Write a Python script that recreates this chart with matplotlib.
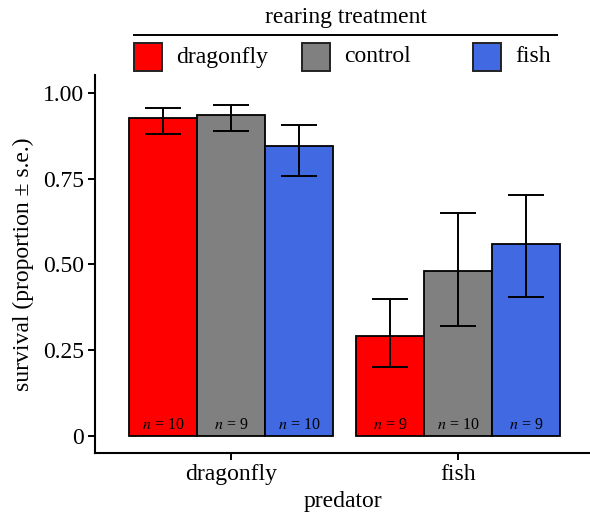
import matplotlib
matplotlib.use("Agg")
import matplotlib.pyplot as plt
from matplotlib.patches import Rectangle
from matplotlib.lines import Line2D
import numpy as np

plt.rcParams['font.family'] = ['Liberation Serif', 'DejaVu Serif']
plt.rcParams['mathtext.fontset'] = 'stix'

# дані
predators = ["dragonfly", "fish"]
treatments = ["dragonfly", "control", "fish"]
colors = ["#FF0000", "#808080", "#4169E1"]
survival = [[0.928, 0.936, 0.845],
            [0.292, 0.482, 0.559]]
err_low = [[0.880, 0.889, 0.759],
           [0.200, 0.319, 0.406]]
err_high = [[0.955, 0.965, 0.905],
            [0.400, 0.650, 0.702]]
n_obs = [[10, 9, 10],
         [9, 10, 9]]

fig = plt.figure(figsize=(5.90, 5.19), dpi=100)
ax = fig.add_axes([95 / 590, 1 - 453 / 519, 495 / 590, (453 - 75) / 519])

width = 0.3
xc = np.arange(1, len(predators) + 1)
for j, (lab, col) in enumerate(zip(treatments, colors)):
    xs = xc + (j - 1) * width
    vals = np.array([survival[i][j] for i in range(len(predators))])
    lo = np.array([err_low[i][j] for i in range(len(predators))])
    hi = np.array([err_high[i][j] for i in range(len(predators))])
    ax.bar(xs, vals, width=width, color=col, edgecolor='black', linewidth=1.3, zorder=2)
    ax.errorbar(xs, vals, yerr=[vals - lo, hi - vals], fmt='none', ecolor='black',
                elinewidth=1.4, capsize=13, capthick=1.4, zorder=3)
    for i, x in enumerate(xs):
        ax.text(x, 0.032, f"$n$ = {n_obs[i][j]}", ha='center', va='center', fontsize=11.5, zorder=4)

ax.set_xlim(0.4, 2.582)
ax.set_ylim(-0.05, 1.052)
ax.set_xticks(xc)
ax.set_xticklabels(predators, fontsize=17)
ax.set_yticks([0, 0.25, 0.5, 0.75, 1.0])
ax.set_yticklabels(["0", "0.25", "0.50", "0.75", "1.00"], fontsize=17)
ax.tick_params(axis='both', length=5, width=1.4, color='black', pad=3)
for s in ['top', 'right']:
    ax.spines[s].set_visible(False)
for s in ['left', 'bottom']:
    ax.spines[s].set_linewidth(1.5)
ax.set_xlabel("predator", fontsize=17, labelpad=4)
ax.set_ylabel("survival (proportion ± s.e.)", fontsize=17, labelpad=6)

# легенда вручну
fig.text(346 / 590, 1 - 18 / 519, "rearing treatment", ha='center', va='center', fontsize=17)
fig.add_artist(Line2D([134 / 590, 557 / 590], [1 - 35 / 519, 1 - 35 / 519], color='black', lw=1.4))
key_x = [134, 302, 473]
for kx, lab, col in zip(key_x, treatments, colors):
    fig.add_artist(Rectangle((kx / 590, 1 - 71 / 519), 28 / 590, 28 / 519, facecolor=col,
                             edgecolor='#222222', lw=1.4, transform=fig.transFigure))
    fig.text((kx + 42) / 590, 1 - 57 / 519, lab, ha='left', va='center', fontsize=17)

fig.savefig("out.png", dpi=100)
